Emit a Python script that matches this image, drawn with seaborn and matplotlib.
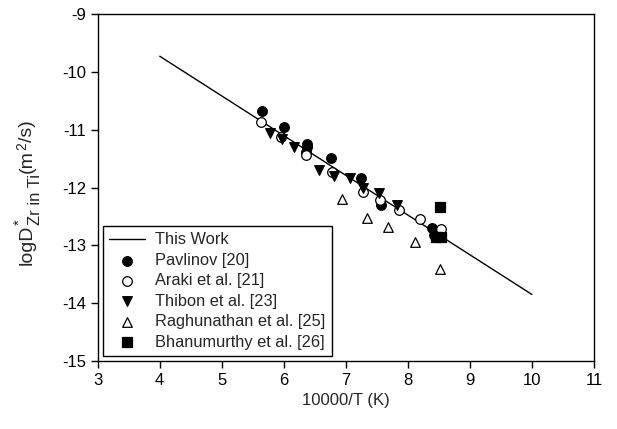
import numpy as np
import pandas as pd
import matplotlib
matplotlib.use("Agg")
import matplotlib.pyplot as plt
import seaborn as sns

sns.set_style("ticks")
plt.rcParams['font.family'] = ['Liberation Sans', 'DejaVu Sans']
plt.rcParams['axes.unicode_minus'] = False

# Fitted line (This Work)
line_x = [4.0, 10.0]
line_y = [-9.73, -13.85]

pav_x = [5.645, 6.00, 6.38, 6.37, 6.36, 6.76, 7.24, 7.57, 8.39, 8.42]
pav_y = [-10.67, -10.96, -11.24, -11.30, -11.38, -11.49, -11.84, -12.30, -12.70, -12.82]

ara_x = [5.63, 5.96, 6.35, 6.78, 7.27, 7.55, 7.85, 8.19, 8.53]
ara_y = [-10.87, -11.13, -11.44, -11.73, -12.07, -12.21, -12.39, -12.55, -12.71]

thi_x = [5.78, 5.97, 6.17, 6.56, 6.81, 7.07, 7.28, 7.54, 7.82]
thi_y = [-11.05, -11.17, -11.30, -11.69, -11.80, -11.84, -12.00, -12.10, -12.30]

rag_x = [6.94, 7.34, 7.68, 8.12, 8.52]
rag_y = [-12.20, -12.52, -12.68, -12.94, -13.41]

bha_x = [8.52, 8.46, 8.53]
bha_y = [-12.34, -12.85, -12.85]

labels = ["This Work", "Pavlinov [20]", "Araki et al. [21]", "Thibon et al. [23]",
          "Raghunathan et al. [25]", "Bhanumurthy et al. [26]"]

W, H = 617, 429
fig = plt.figure(figsize=(W / 100, H / 100), dpi=100)
ax = fig.add_axes([97.7 / W, 1 - 361 / H, (594 - 97.7) / W, (361 - 14) / H])

line_df = pd.DataFrame({"x": line_x, "y": line_y})
sns.lineplot(data=line_df, x="x", y="y", ax=ax, color="black", lw=1.0, label=labels[0])

series = [
    (pav_x, pav_y, "o", "black", labels[1]),
    (ara_x, ara_y, "o", "white", labels[2]),
    (thi_x, thi_y, "v", "black", labels[3]),
    (rag_x, rag_y, "^", "white", labels[4]),
    (bha_x, bha_y, "s", "black", labels[5]),
]
for xs, ys, m, fc, lab in series:
    df = pd.DataFrame({"x": xs, "y": ys})
    sns.scatterplot(data=df, x="x", y="y", ax=ax, marker=m, s=48,
                    facecolor=fc, edgecolor="black", linewidth=0.9, label=lab, zorder=3)

ax.set_xlim(3, 11)
ax.set_ylim(-15, -9)
ax.set_xticks(range(3, 12))
ax.set_yticks(range(-15, -8))
ax.tick_params(direction="out", length=5, width=1, labelsize=12, colors="black")
for sp in ax.spines.values():
    sp.set_visible(True)
    sp.set_color("black")
    sp.set_linewidth(1.0)
ax.set_xlabel("10000/T (K)", fontsize=12)
ax.set_ylabel("")

leg = ax.legend(loc="lower left", fontsize=11.8, frameon=True, fancybox=False,
                edgecolor="black", framealpha=1, borderaxespad=0.3,
                handlelength=2.2, handletextpad=0.6, labelspacing=0.33, borderpad=0.4)
leg.get_frame().set_linewidth(1.0)

# Y label built from pieces (rotated, reading bottom to top)
renderer = fig.canvas.get_renderer()
base_x = 32.0
y = 429 - 265.0

def piece(txt, size, xoff, ypos):
    t = fig.text(base_x + xoff, ypos, txt, fontsize=size, rotation=90,
                 rotation_mode="anchor", ha="left", va="baseline",
                 transform=None)
    bb = t.get_window_extent(renderer)
    return bb.height

h = piece("logD", 14, 0, y)
y_after_main = y + h
piece("*", 11, -8, y_after_main)
h = piece("Zr in Ti", 12, 8, y_after_main)
y = y_after_main + h + 1
h = piece("(m", 14, 0, y)
y += h
h = piece("2", 10, -6, y)
y += h
piece("/s)", 14, 0, y)

fig.savefig("out.png", dpi=100)
